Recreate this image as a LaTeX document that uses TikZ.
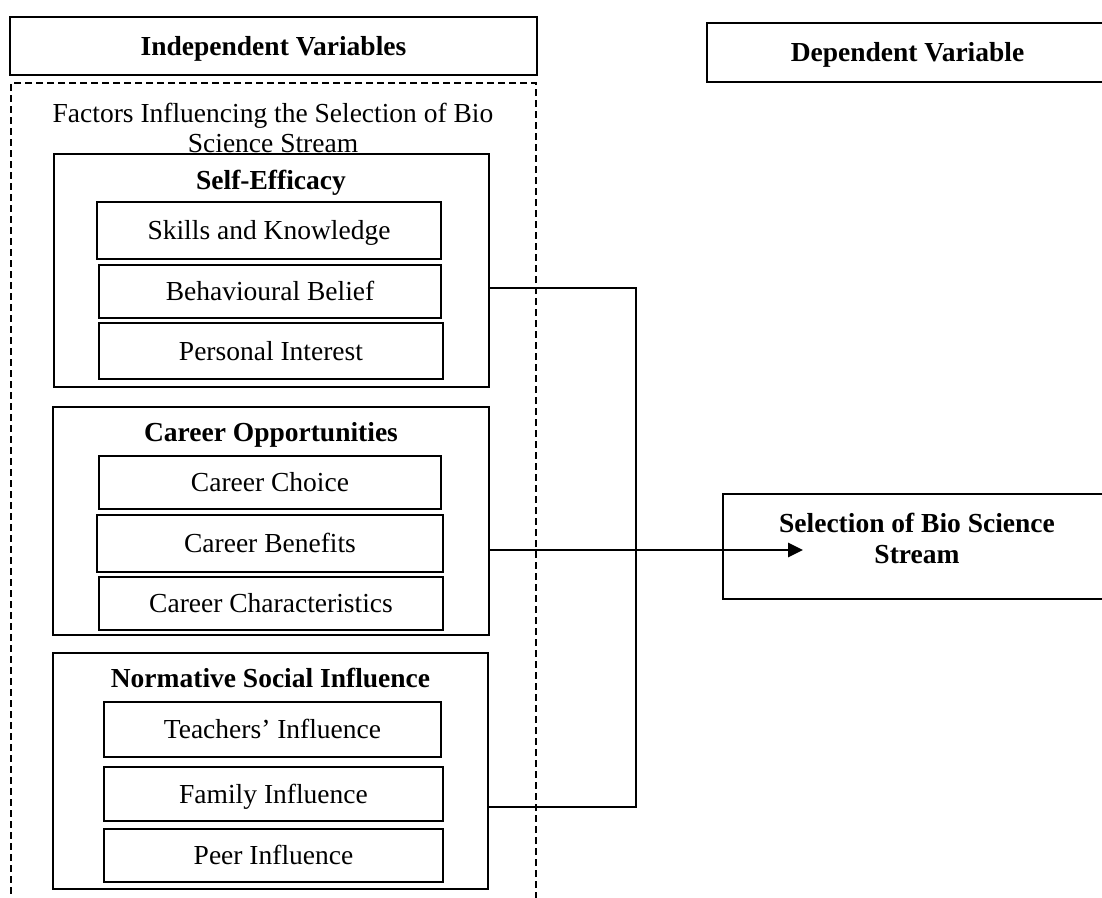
\documentclass[tikz,border=0pt]{standalone}
\usepackage{fontspec}
\setmainfont{Liberation Serif}
\usetikzlibrary{arrows.meta}
\tikzset{
  box/.style={draw, line width=1.7pt, rectangle, inner sep=0pt, align=center, text height=23pt, text depth=5pt},
  rfont/.style={font=\fontsize{27.5}{31}\selectfont},
  bfont/.style={font=\fontsize{27.5}{31}\selectfont\bfseries},
  frm/.style={draw, rectangle, inner sep=0pt},
  txt/.style={inner sep=0pt, align=center, font=\fontsize{27.5}{30}\selectfont},
  head/.style={inner sep=0pt, align=center, font=\fontsize{27.5}{31}\selectfont\bfseries, text height=23pt, text depth=5pt},
  conn/.style={line width=1.6pt},
  arr/.style={line width=2.8pt, -{Triangle[length=15pt,width=14pt]}},
  frame/.style={draw, line width=1.5pt, dash pattern=on 7pt off 4pt}
}
\begin{document}
\begin{tikzpicture}[x=1pt,y=-1pt]
\useasboundingbox (0,0) rectangle (1102,897);
\clip (0,0) rectangle (1102,897);
% headers
\node[box, bfont, minimum width=527pt, minimum height=58pt] (indep) at (273.5,46) {Independent Variables};
\node[box, bfont, minimum width=401pt, minimum height=59pt] (dep) at (907.5,52.5) {Dependent Variable};
% dashed frame
\node[frame, minimum width=525pt, minimum height=830pt] (frm) at (273.5,498) {};
\node[txt] (ftitle) at (273,128) {Factors Influencing the Selection of Bio\\Science Stream};
% Self-Efficacy
\node[frm, line width=1.7pt, minimum width=435pt, minimum height=233pt] (se) at (271.5,270.5) {};
\node[head] (seh) at (271,180) {Self-Efficacy};
\node[box, rfont, minimum width=344pt, minimum height=57pt] (skills) at (269,230.5) {Skills and Knowledge};
\node[box, rfont, minimum width=342pt, minimum height=53pt] (beh) at (270,291.5) {Behavioural Belief};
\node[box, rfont, minimum width=344pt, minimum height=56pt] (pers) at (271,351) {Personal Interest};
% Career Opportunities
\node[frm, line width=1.7pt, minimum width=436pt, minimum height=228pt] (co) at (271,521) {};
\node[head] (coh) at (271,432) {Career Opportunities};
\node[box, rfont, minimum width=342pt, minimum height=53pt] (choice) at (270,482.5) {Career Choice};
\node[box, rfont, minimum width=346pt, minimum height=57pt] (benef) at (270,543.5) {Career Benefits};
\node[box, rfont, minimum width=344pt, minimum height=53pt] (charac) at (271,603.5) {Career Characteristics};
% Normative Social Influence
\node[frm, line width=1.7pt, minimum width=435pt, minimum height=236pt] (nsi) at (270.5,771) {};
\node[head] (nsih) at (270.5,678) {Normative Social Influence};
\node[box, rfont, minimum width=337pt, minimum height=55pt] (teach) at (272.5,729.5) {Teachers’ Influence};
\node[box, rfont, minimum width=339pt, minimum height=54pt] (fam) at (273.5,794) {Family Influence};
\node[box, rfont, minimum width=339pt, minimum height=53pt] (peer) at (273.5,855.5) {Peer Influence};
% Dependent variable box
\node[frm, line width=1.7pt, minimum width=388pt, minimum height=105pt] (sel) at (917,546.5) {};
\node[inner sep=0pt, align=center, bfont] (selt) at (917,538.5) {Selection of Bio Science\\Stream};
% connectors
\coordinate (j1) at (636,288);
\coordinate (j2) at (636,807);
\coordinate (tip) at (803,550);
\draw[conn] ([yshift=-17.5pt]se.east) -- (j1) -- (j2) -- ([yshift=-36pt]nsi.east);
\draw[arr] ([yshift=-29pt]co.east) -- (tip);
\end{tikzpicture}
\end{document}
